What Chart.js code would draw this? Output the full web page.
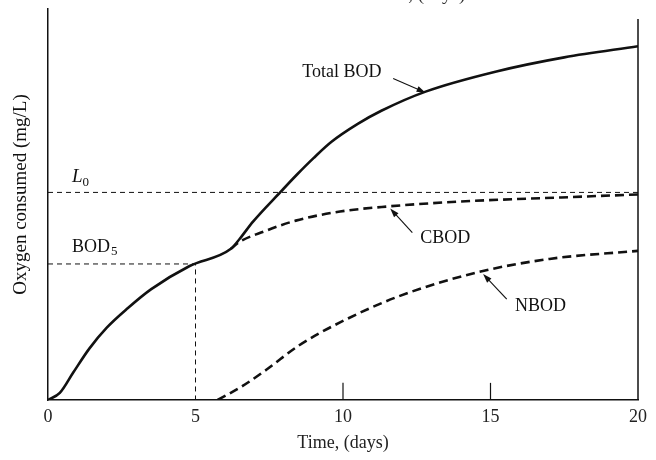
<!DOCTYPE html>
<html>
<head>
<meta charset="utf-8">
<script src="https://cdn.jsdelivr.net/npm/chart.js@4/dist/chart.umd.min.js"></script>
<style>
  html, body { margin: 0; padding: 0; background: #fff; }
</style>
</head>
<body>
<canvas id="bodChart" width="656" height="460"></canvas>
<script>
// Values (time in days, oxygen in arbitrary units, no y labels)
const totalDays = [0, 0.4, 0.85, 1.4, 2, 2.7, 3.5, 4.8, 6.2, 6.5, 6.95, 7.9, 8.45, 9, 9.6, 10.5, 11.3, 12.8, 15.2, 17.5, 20];
const totalBod  = [0, 7, 27, 51, 72, 91, 110, 133, 150, 160, 177, 207, 224, 240, 256, 274, 287, 306, 326, 340, 351];

const cbodDays = [6.2, 6.5, 7.3, 8.4, 9.9, 11.5, 14, 17.4, 20];
const cbodVals = [150, 157, 167, 178, 187, 192, 197, 201, 204];

const nbodDays = [5.75, 6.6, 7.4, 8.5, 9.9, 11.9, 14.6, 17, 20];
const nbodVals = [0, 14, 30, 54, 77, 103, 127, 140, 148];

const L0 = 206;
const BOD5 = 135;
const bod5Day = 5;

const xTicks = [0, 5, 10, 15, 20];
const innerTicks = [10, 15];

const serif = "'Liberation Serif', 'Times New Roman', serif";

function toPoints(xs, ys) {
    return xs.map((x, i) => ({ x: x, y: ys[i] }));
}

// Draw a thin arrow between two pixel points
function arrow(ctx, x1, y1, x2, y2) {
    const ang = Math.atan2(y2 - y1, x2 - x1);
    ctx.beginPath();
    ctx.moveTo(x1, y1);
    ctx.lineTo(x2 - 6 * Math.cos(ang), y2 - 6 * Math.sin(ang));
    ctx.stroke();
    ctx.beginPath();
    ctx.moveTo(x2, y2);
    ctx.lineTo(x2 - 9 * Math.cos(ang) + 3 * Math.sin(ang), y2 - 9 * Math.sin(ang) - 3 * Math.cos(ang));
    ctx.lineTo(x2 - 9 * Math.cos(ang) - 3 * Math.sin(ang), y2 - 9 * Math.sin(ang) + 3 * Math.cos(ang));
    ctx.closePath();
    ctx.fill();
}

// Labels with arrows, in data coordinates
const labels = [
    { text: 'Total BOD', x: 8.62, y: 325, from: [11.7, 319], to: [12.8, 305] },
    { text: 'CBOD', x: 12.62, y: 160, from: [12.35, 166], to: [11.6, 190] },
    { text: 'NBOD', x: 15.83, y: 93, from: [15.55, 100], to: [14.75, 125] }
];

const extras = {
    id: 'extras',
    afterDatasetsDraw(chart) {
        const ctx = chart.ctx;
        const xs = chart.scales.x;
        const ys = chart.scales.y;
        const area = chart.chartArea;
        ctx.save();
        ctx.strokeStyle = '#111';
        ctx.fillStyle = '#111';

        // right frame line
        ctx.lineWidth = 1.5;
        ctx.beginPath();
        ctx.moveTo(xs.getPixelForValue(20), ys.getPixelForValue(378));
        ctx.lineTo(xs.getPixelForValue(20), ys.getPixelForValue(0));
        ctx.stroke();

        // small inner ticks
        ctx.lineWidth = 1.2;
        innerTicks.forEach(t => {
            ctx.beginPath();
            ctx.moveTo(xs.getPixelForValue(t), ys.getPixelForValue(0));
            ctx.lineTo(xs.getPixelForValue(t), ys.getPixelForValue(17));
            ctx.stroke();
        });

        // curve labels
        ctx.font = '18px ' + serif;
        ctx.textBaseline = 'middle';
        ctx.textAlign = 'left';
        ctx.lineWidth = 1.1;
        labels.forEach(l => {
            ctx.fillText(l.text, xs.getPixelForValue(l.x), ys.getPixelForValue(l.y));
            arrow(ctx, xs.getPixelForValue(l.from[0]), ys.getPixelForValue(l.from[1]),
                xs.getPixelForValue(l.to[0]), ys.getPixelForValue(l.to[1]));
        });

        // L0 and BOD5 labels with subscripts
        let px = xs.getPixelForValue(0.81);
        let py = ys.getPixelForValue(221);
        ctx.font = 'italic 19px ' + serif;
        ctx.fillText('L', px, py);
        let w = ctx.measureText('L').width;
        ctx.font = '13px ' + serif;
        ctx.fillText('0', px + w, py + 5);

        py = ys.getPixelForValue(152);
        ctx.font = '18px ' + serif;
        ctx.fillText('BOD', px, py);
        w = ctx.measureText('BOD').width;
        ctx.font = '13px ' + serif;
        ctx.fillText('5', px + w + 1, py + 5);

        // y axis title
        ctx.font = '19px ' + serif;
        ctx.textAlign = 'center';
        ctx.translate(21, (area.top + area.bottom) / 2 - 10);
        ctx.rotate(-Math.PI / 2);
        ctx.fillText('Oxygen consumed (mg/L)', 0, 0);
        ctx.restore();

        // cut-off caption from the previous figure at the very top
        ctx.save();
        ctx.font = '19px ' + serif;
        ctx.fillStyle = '#333';
        ctx.textAlign = 'center';
        ctx.textBaseline = 'alphabetic';
        ctx.fillText('Time, (days)', 417, 0);
        ctx.restore();
    }
};

const lineBase = {
    borderColor: '#111',
    pointRadius: 0,
    fill: false
};

new Chart(document.getElementById('bodChart').getContext('2d'), {
    type: 'line',
    data: {
        datasets: [
            Object.assign({}, lineBase, {
                label: 'Total BOD',
                data: toPoints(totalDays, totalBod),
                borderWidth: 2.6,
                cubicInterpolationMode: 'monotone'
            }),
            Object.assign({}, lineBase, {
                label: 'CBOD',
                data: toPoints(cbodDays, cbodVals),
                borderWidth: 2.6,
                borderDash: [9, 5],
                cubicInterpolationMode: 'monotone'
            }),
            Object.assign({}, lineBase, {
                label: 'NBOD',
                data: toPoints(nbodDays, nbodVals),
                borderWidth: 2.6,
                borderDash: [9, 5],
                cubicInterpolationMode: 'monotone'
            }),
            Object.assign({}, lineBase, {
                label: 'L0',
                data: [{ x: 0, y: L0 }, { x: 20, y: L0 }],
                borderWidth: 1,
                borderDash: [5, 4]
            }),
            Object.assign({}, lineBase, {
                label: 'BOD5',
                data: [{ x: 0, y: BOD5 }, { x: bod5Day, y: BOD5 }, { x: bod5Day, y: 0 }],
                borderWidth: 1,
                borderDash: [5, 4]
            })
        ]
    },
    options: {
        responsive: false,
        animation: false,
        devicePixelRatio: 1,
        layout: { padding: { left: 48, right: 18, top: 9, bottom: 0 } },
        plugins: {
            legend: { display: false },
            tooltip: { enabled: false }
        },
        scales: {
            x: {
                type: 'linear',
                min: 0,
                max: 20,
                grid: { display: false, drawTicks: false },
                border: { display: true, color: '#111', width: 1.5 },
                afterBuildTicks: axis => { axis.ticks = xTicks.map(v => ({ value: v })); },
                ticks: {
                    padding: 8,
                    color: '#222',
                    font: { family: serif, size: 18, lineHeight: 1 }
                },
                title: {
                    display: true,
                    text: 'Time, (days)',
                    color: '#222',
                    font: { family: serif, size: 18, lineHeight: 1 },
                    padding: { top: 0, bottom: 8 }
                }
            },
            y: {
                min: 0,
                max: 388,
                grid: { display: false, drawTicks: false },
                border: { display: true, color: '#111', width: 1.5 },
                ticks: { display: false }
            }
        }
    },
    plugins: [extras]
});
</script>
</body>
</html>
